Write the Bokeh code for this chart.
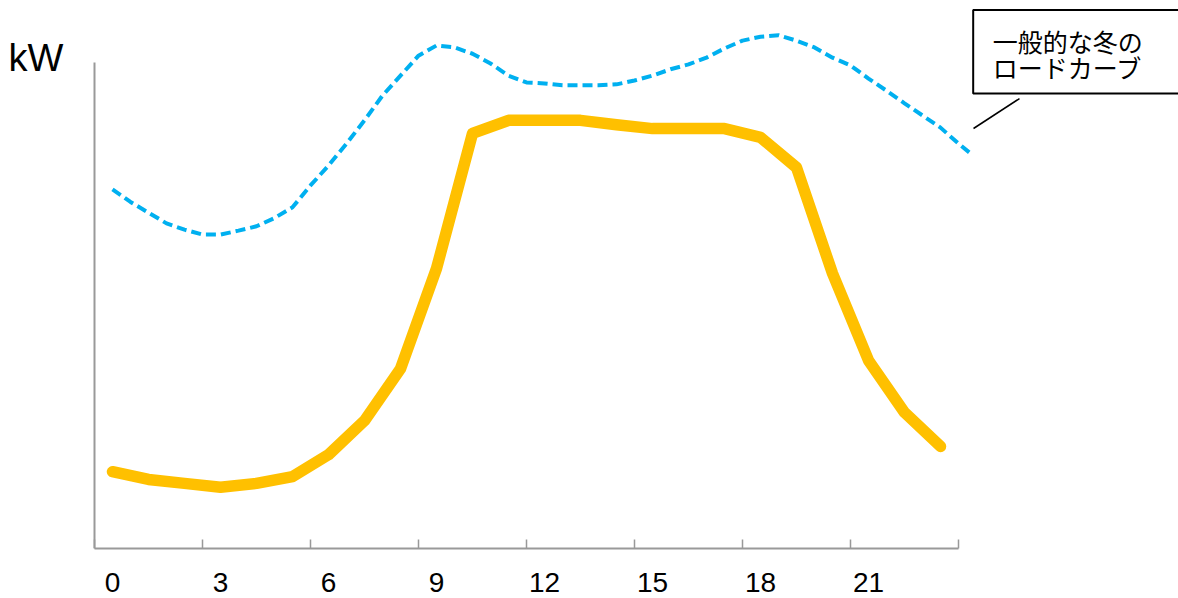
from bokeh.plotting import figure
from bokeh.models import Range1d, FixedTicker, Label, BoxAnnotation
from bokeh.embed import file_html
from bokeh.resources import INLINE

# ---- data ----
hours = list(range(24))
solar_demand = [15.8, 14.2, 13.4, 12.6, 13.4, 14.8, 19.3, 26.3, 37.0, 57.6, 85.4, 88.1,
                88.1, 88.1, 87.2, 86.4, 86.4, 86.4, 84.6, 78.4, 56.6, 38.7, 28.0, 21.0]
winter_hours = [0, 0.5, 1, 1.5, 2, 2.5, 3, 3.5, 4, 4.5, 5, 5.5, 6, 6.5, 7, 7.5, 8, 8.5,
                9, 9.5, 10, 10.5, 11, 11.5, 12, 12.5, 13, 13.5, 14, 14.5, 15, 15.5, 16, 16.5,
                17, 17.5, 18, 18.5, 19, 19.5, 20, 20.5, 21, 21.5, 22, 22.5, 23, 23.5, 23.9]
winter_curve = [73.9, 71.3, 69.1, 66.9, 65.6, 64.6, 64.6, 65.4, 66.3, 68.0, 70.2, 74.7,
                78.8, 83.3, 88.1, 93.2, 97.3, 101.4, 103.5, 103.1, 101.8, 99.8, 97.3, 95.9,
                95.7, 95.3, 95.3, 95.3, 95.5, 96.3, 97.3, 98.6, 99.6, 101.0, 102.9, 104.5,
                105.3, 105.6, 104.5, 103.1, 101.0, 99.4, 96.7, 94.2, 91.6, 89.1, 86.6, 83.3, 80.9]
tick_labels = [0, 3, 6, 9, 12, 15, 18, 21]
tick_bounds = [-0.5, 2.5, 5.5, 8.5, 11.5, 14.5, 17.5, 20.5, 23.5]
y_bounds = (0, 100)
callout_lines = ["一般的な冬の", "ロードカーブ"]
y_label = "kW"

AXIS_GRAY = "#999999"
W, H = 1178, 598
p = figure(width=W, height=H, output_backend="svg", toolbar_location=None,
           x_range=Range1d(-3.111, 29.611), y_range=Range1d(0, 112.757),
           min_border_left=0, min_border_right=0, min_border_top=0, min_border_bottom=50)
p.outline_line_color = None
p.grid.visible = False
p.yaxis.visible = False
p.background_fill_color = "white"
p.border_fill_color = "white"

# x axis
xa = p.xaxis[0]
xa.ticker = FixedTicker(ticks=tick_labels, minor_ticks=tick_bounds)
xa.bounds = (tick_bounds[0], tick_bounds[-1])
xa.axis_line_color = AXIS_GRAY
xa.axis_line_width = 2
xa.major_tick_line_color = None
xa.minor_tick_line_color = AXIS_GRAY
xa.minor_tick_line_width = 1.5
xa.minor_tick_in = 9
xa.minor_tick_out = 0
xa.major_label_text_font = "Liberation Sans"
xa.major_label_text_font_size = "28px"
xa.major_label_text_color = "black"
xa.major_label_standoff = 18

# y axis line (value axis without ticks)
p.segment(x0=[tick_bounds[0]], y0=[y_bounds[0]], x1=[tick_bounds[0]], y1=[y_bounds[1]],
          line_color=AXIS_GRAY, line_width=2)

# series
p.line(winter_hours, winter_curve, line_color="#00B0F0", line_width=4, line_dash="10 5")
p.line(hours, solar_demand, line_color="#FFC000", line_width=11.5,
       line_cap="round", line_join="round")

# callout
p.add_layout(BoxAnnotation(left=23.908, right=32, bottom=93.62, top=110.8,
                           fill_color="white", fill_alpha=1.0,
                           line_color="black", line_alpha=1.0, line_width=2))
p.segment(x0=[23.917], y0=[86.42], x1=[25.194], y1=[92.59], line_color="black", line_width=1.5)
p.add_layout(Label(x=24.45, y=104.5, text=callout_lines[0], text_font="Noto Sans CJK JP",
                   text_font_size="25px", text_baseline="middle", text_color="black"))
p.add_layout(Label(x=24.45, y=99.0, text=callout_lines[1], text_font="Noto Sans CJK JP",
                   text_font_size="25px", text_baseline="middle", text_color="black"))

# unit label
p.add_layout(Label(x=-2.89, y=101.0, text=y_label, text_font="Liberation Sans",
                   text_font_size="38px", text_baseline="alphabetic", text_color="black"))

open("out.html", "w").write(file_html(p, INLINE))
